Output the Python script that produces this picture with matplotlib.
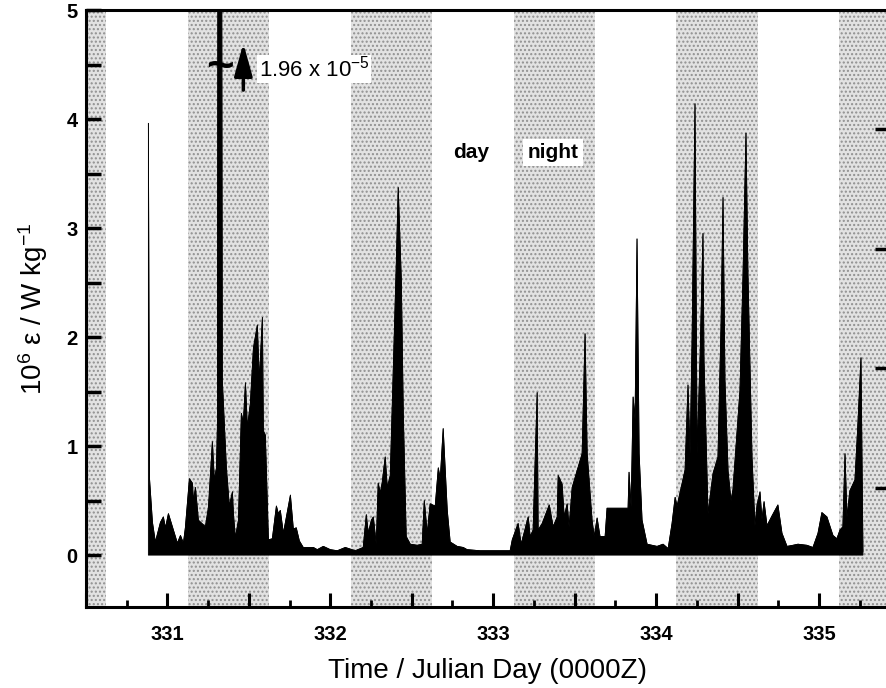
import matplotlib
matplotlib.use("Agg")
import matplotlib.pyplot as plt
from matplotlib.ticker import FixedLocator, FuncFormatter
import numpy as np

plt.rcParams['font.family'] = ['Liberation Sans', 'DejaVu Sans']
plt.rcParams['mathtext.default'] = 'regular'
plt.rcParams['hatch.linewidth'] = 1.0

# dissipation rate, 10^6 eps (W/kg), versus Julian day
day = [330.883, 330.890, 330.908, 330.926, 330.957, 330.975, 330.988, 331.006,
       331.061, 331.080, 331.098, 331.110, 331.135, 331.153, 331.160, 331.172,
       331.190, 331.233, 331.252, 331.276, 331.288, 331.301, 331.307, 331.319,
       331.337, 331.362, 331.380, 331.399, 331.405, 331.417, 331.436, 331.454,
       331.466, 331.479, 331.491, 331.509, 331.528, 331.552, 331.564, 331.583,
       331.589, 331.601, 331.620, 331.644, 331.669, 331.681, 331.693, 331.712,
       331.755, 331.773, 331.791, 331.810, 331.834, 331.896, 331.920, 331.957,
       332.000, 332.043, 332.092, 332.153, 332.202, 332.221, 332.233, 332.252,
       332.264, 332.282, 332.294, 332.307, 332.319, 332.337, 332.350, 332.368,
       332.387, 332.405, 332.417, 332.436, 332.448, 332.466, 332.491, 332.534,
       332.564, 332.577, 332.595, 332.613, 332.644, 332.663, 332.675, 332.693,
       332.718, 332.736, 332.779, 332.816, 332.840, 332.920, 333.025, 333.104,
       333.117, 333.153, 333.172, 333.184, 333.215, 333.227, 333.245, 333.270,
       333.276, 333.301, 333.344, 333.368, 333.393, 333.399, 333.423, 333.436,
       333.454, 333.466, 333.485, 333.546, 333.564, 333.577, 333.607, 333.620,
       333.638, 333.656, 333.687, 333.699, 333.828, 333.834, 333.847, 333.859,
       333.871, 333.883, 333.896, 333.914, 333.945, 334.006, 334.043, 334.074,
       334.098, 334.117, 334.129, 334.178, 334.196, 334.209, 334.221, 334.239,
       334.252, 334.270, 334.288, 334.294, 334.319, 334.350, 334.380, 334.399,
       334.411, 334.423, 334.442, 334.460, 334.472, 334.515, 334.534, 334.552,
       334.564, 334.589, 334.607, 334.620, 334.638, 334.650, 334.663, 334.681,
       334.712, 334.748, 334.773, 334.804, 334.840, 334.871, 334.926, 334.963,
       334.994, 335.018, 335.049, 335.086, 335.110, 335.129, 335.147, 335.160,
       335.172, 335.190, 335.221, 335.239, 335.258, 335.270]
eps = [3.96, 0.70, 0.30, 0.12, 0.30, 0.35, 0.25, 0.38,
       0.11, 0.18, 0.11, 0.25, 0.70, 0.66, 0.50, 0.62,
       0.32, 0.26, 0.44, 1.04, 0.69, 0.80, 1.20, 19.6,
       1.60, 0.80, 0.45, 0.58, 0.38, 0.16, 0.32, 1.30,
       1.21, 1.58, 1.17, 1.39, 1.90, 2.11, 1.60, 2.18,
       1.14, 1.10, 0.14, 0.15, 0.45, 0.38, 0.41, 0.20,
       0.55, 0.24, 0.25, 0.13, 0.07, 0.07, 0.05, 0.08,
       0.05, 0.04, 0.07, 0.04, 0.07, 0.37, 0.20, 0.32,
       0.35, 0.10, 0.66, 0.57, 0.67, 0.90, 0.62, 0.73,
       1.72, 2.67, 3.37, 2.52, 1.30, 0.17, 0.10, 0.09,
       0.10, 0.50, 0.20, 0.47, 0.45, 0.80, 0.70, 1.16,
       0.41, 0.12, 0.08, 0.07, 0.05, 0.04, 0.04, 0.04,
       0.14, 0.29, 0.10, 0.17, 0.35, 0.17, 0.23, 1.49,
       0.23, 0.29, 0.46, 0.26, 0.35, 0.73, 0.65, 0.35,
       0.47, 0.26, 0.62, 0.93, 2.03, 0.93, 0.32, 0.17,
       0.34, 0.17, 0.17, 0.43, 0.43, 0.76, 0.44, 1.45,
       1.25, 2.90, 0.93, 0.32, 0.10, 0.08, 0.10, 0.06,
       0.29, 0.53, 0.45, 0.78, 1.56, 0.93, 1.97, 4.14,
       0.93, 1.81, 2.95, 1.80, 0.38, 0.75, 0.90, 2.12,
       3.28, 1.60, 0.77, 0.50, 0.60, 1.51, 2.58, 3.87,
       2.58, 0.90, 0.27, 0.46, 0.58, 0.33, 0.49, 0.27,
       0.36, 0.46, 0.20, 0.08, 0.09, 0.10, 0.09, 0.07,
       0.20, 0.39, 0.35, 0.18, 0.15, 0.23, 0.26, 0.93,
       0.35, 0.59, 0.69, 1.20, 1.81, 0.03]

# night periods (shaded)
night_start = [330.125, 331.125, 332.125, 333.125, 334.125, 335.125]
night_end = [330.625, 331.625, 332.625, 333.625, 334.625, 335.625]

fig = plt.figure(figsize=(8.87, 6.88), dpi=100)
ax = fig.add_axes([86 / 887, 1 - 607 / 688, (889 - 86) / 887, (607 - 10) / 688])

for a, b in zip(night_start, night_end):
    ax.axvspan(a, b, facecolor='#e2e2e2', edgecolor='#909090', hatch='....',
               linewidth=0, zorder=0)

ax.fill_between(day, 0, eps, color='black', linewidth=0.6, zorder=2)
ax.plot(day, eps, color='black', linewidth=0.6, zorder=2)

ax.set_xlim(330.5, 335.43)
ax.set_ylim(-0.476, 5.0)

# break mark and arrow for the clipped peak
ax.text(331.325, 4.47, '~', fontsize=34, fontweight='bold', ha='center', va='center',
        zorder=4)
ax.annotate('', xy=(331.466, 4.72), xytext=(331.466, 4.24),
            arrowprops=dict(arrowstyle='-|>,head_length=0.9,head_width=0.25',
                            color='black', lw=2.5, mutation_scale=22), zorder=4)
ax.text(331.56, 4.46, '1.96 x 10$^{-5}$', fontsize=16, ha='left', va='center',
        bbox=dict(facecolor='white', edgecolor='none', pad=1), zorder=4)

ax.text(332.865, 3.69, 'day', fontsize=15, fontweight='bold', ha='center', va='center')
ax.text(333.368, 3.69, 'night', fontsize=15, fontweight='bold', ha='center', va='center',
        bbox=dict(facecolor='white', edgecolor='none', pad=3))

# ticks
ax.xaxis.set_major_locator(FixedLocator(np.arange(330.5, 335.5, 0.5)))
ax.xaxis.set_minor_locator(FixedLocator(np.arange(330.75, 335.5, 0.5)))
ax.xaxis.set_major_formatter(FuncFormatter(
    lambda v, p: '%d' % round(v) if abs(v - round(v)) < 1e-6 else ''))
ax.yaxis.set_major_locator(FixedLocator([0, 1, 2, 3, 4, 5]))
ax.yaxis.set_minor_locator(FixedLocator([0.5, 1.5, 2.5, 3.5, 4.5]))

ax.tick_params(axis='x', which='major', direction='in', length=10, width=2.2,
               pad=13, labelsize=14.5)
ax.tick_params(axis='x', which='minor', direction='in', length=5, width=2.0)
ax.tick_params(axis='y', which='both', direction='in', length=11, width=2.5,
               pad=6, labelsize=14.5)
ax.tick_params(top=False, right=False)
for lab in ax.get_xticklabels() + ax.get_yticklabels():
    lab.set_fontweight('bold')

for s in ax.spines.values():
    s.set_linewidth(2.2)

# right-hand axis ticks (no labels)
ax2 = ax.twinx()
ax2.set_ylim(0, 1)
ax2.set_yticks([0.2, 0.4, 0.6, 0.8])
ax2.tick_params(axis='y', direction='in', length=10, width=2.5, labelright=False)

ax.set_xlabel('Time / Julian Day (0000Z)', fontsize=20, labelpad=10)
ax.set_ylabel('10$^{6}$ ε / W kg$^{-1}$', fontsize=20, labelpad=12)

fig.savefig('out.png', dpi=100)
